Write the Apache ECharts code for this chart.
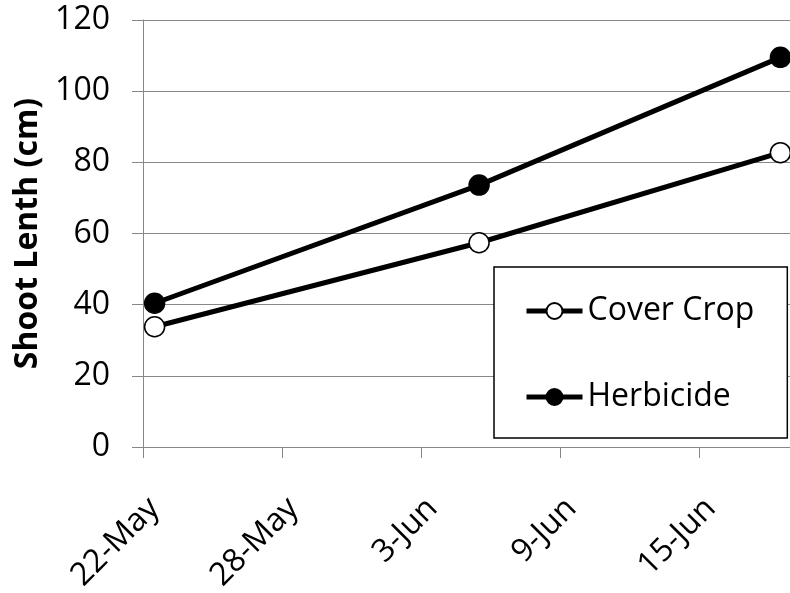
<!DOCTYPE html>
<html>
<head>
<meta charset="utf-8">
<script src="https://cdn.jsdelivr.net/npm/echarts@6/dist/echarts.min.js"></script>
<style>
  html, body { margin: 0; padding: 0; background: #fff; }
  #chart { width: 790px; height: 593px; }
</style>
</head>
<body>
<div id="chart"></div>
<script>
// ---- Data ----
const sampleDates = ['2013-05-22', '2013-06-05', '2013-06-18'];
const coverCrop = [33.8, 57.4, 82.7];
const herbicide = [40.4, 73.6, 109.5];
const seriesNames = ['Cover Crop', 'Herbicide'];
const tickDates = ['2013-05-22', '2013-05-28', '2013-06-03', '2013-06-09', '2013-06-15'];
const tickLabels = ['22-May', '28-May', '3-Jun', '9-Jun', '15-Jun'];
const axisStartDate = '2013-05-22';
const axisEndDate = '2013-06-19';
const yTitle = 'Shoot Lenth (cm)';

// ---- Build ----
const DAY = 86400000;
const ts = d => Date.parse(d + 'T00:00:00Z');
// days since axis start
const dayOf = d => Math.round((ts(d) - ts(axisStartDate)) / DAY);
// Excel date axis plots points in the middle of the day ("between tick marks")
const pt = d => dayOf(d) + 0.5;
const tickDays = tickDates.map(dayOf);
const font = '"Open Sans", sans-serif';
const gray = '#878787';

const chart = echarts.init(document.getElementById('chart'), null, { renderer: 'canvas' });
chart.setOption({
  animation: false,
  backgroundColor: '#fff',
  grid: { left: 143, top: 20, width: 649, height: 427, containLabel: false, outerBoundsMode: 'none' },
  legend: {
    data: seriesNames,
    orient: 'vertical',
    left: 494, top: 267,
    padding: [28, 33, 25, 30],
    itemGap: 54,
    itemWidth: 56,
    itemHeight: 20,
    borderColor: '#000',
    borderWidth: 1.5,
    backgroundColor: '#fff',
    lineStyle: { width: 5 },
    textStyle: { fontSize: 32, fontFamily: font, color: '#000' }
  },
  xAxis: {
    type: 'value',
    min: 0,
    max: dayOf(axisEndDate),
    axisLine: { show: true, onZero: false, lineStyle: { color: gray, width: 1 } },
    axisTick: { show: true, customValues: tickDays, length: 11, lineStyle: { color: gray, width: 1 } },
    splitLine: { show: false },
    axisLabel: {
      customValues: tickDays,
      rotate: 45,
      align: 'right',
      verticalAlign: 'top',
      margin: 45,
      fontSize: 32,
      fontFamily: font,
      color: '#000',
      formatter: v => { const i = tickDays.indexOf(v); return i >= 0 ? tickLabels[i] : ''; }
    }
  },
  yAxis: {
    type: 'value',
    min: 0, max: 120, interval: 20,
    name: yTitle,
    nameLocation: 'middle',
    nameGap: 93,
    nameTextStyle: { fontSize: 32, fontWeight: 'bold', fontFamily: font, color: '#000' },
    axisLine: { show: true, onZero: false, lineStyle: { color: gray, width: 1 } },
    axisTick: { show: true, length: 11, lineStyle: { color: gray, width: 1 } },
    splitLine: { show: true, lineStyle: { color: gray, width: 1 } },
    axisLabel: { margin: 33, fontSize: 32, fontFamily: font, color: '#000' }
  },
  series: [
    {
      name: seriesNames[0],
      type: 'line',
      data: sampleDates.map((d, i) => [pt(d), coverCrop[i]]),
      symbol: 'circle',
      symbolSize: 20,
      lineStyle: { color: '#000', width: 5 },
      itemStyle: { color: '#fff', borderColor: '#000', borderWidth: 1.5 },
      clip: false,
      z: 3
    },
    {
      name: seriesNames[1],
      type: 'line',
      data: sampleDates.map((d, i) => [pt(d), herbicide[i]]),
      symbol: 'circle',
      symbolSize: 20,
      lineStyle: { color: '#000', width: 5 },
      itemStyle: { color: '#000', borderColor: '#000', borderWidth: 1.5 },
      clip: false,
      z: 4
    }
  ]
});
</script>
</body>
</html>
